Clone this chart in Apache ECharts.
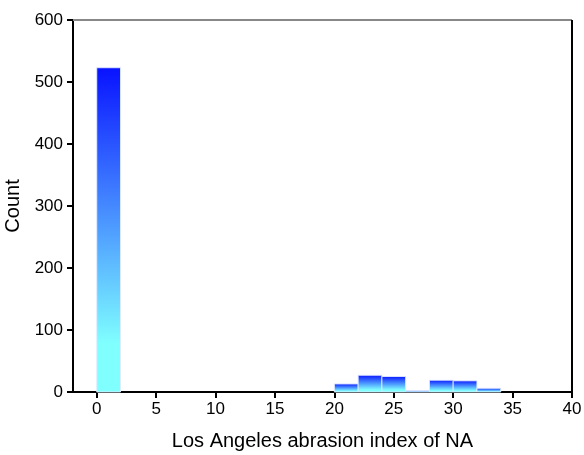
<!DOCTYPE html>
<html>
<head>
<meta charset="utf-8">
<script src="https://cdn.jsdelivr.net/npm/echarts@6/dist/echarts.min.js"></script>
<style>
    html, body { margin: 0; padding: 0; background: #fff; }
    #chart { width: 584px; height: 455px; }
</style>
</head>
<body>
<div id="chart"></div>
<script>
// histogram bins (start, end) and counts
const binStarts = [0, 20, 22, 24, 26, 28, 30, 32]
const binEnds = [2, 22, 24, 26, 28, 30, 32, 34]
const counts = [523, 13, 27, 25, 2, 19, 18, 6]
const xTicks = [0, 5, 10, 15, 20, 25, 30, 35, 40]
const yTicks = [0, 100, 200, 300, 400, 500, 600]

const chart = echarts.init(document.getElementById('chart'))
const font = '"Liberation Sans", Arial, sans-serif'

const barData = binStarts.map((s, i) => [s, binEnds[i], counts[i]])

chart.setOption({
    animation: false,
    grid: { left: 73, right: 12, top: 20, bottom: 63, outerBoundsMode: 'none', containLabel: false },
    xAxis: {
        type: 'value',
        min: -2,
        max: 40,
        name: 'Los Angeles abrasion index of NA',
        nameLocation: 'middle',
        nameGap: 39,
        nameTextStyle: { color: '#000', fontSize: 20, fontFamily: font },
        axisLine: { show: true, onZero: false, lineStyle: { color: '#000', width: 2 } },
        axisTick: { show: true, length: 6, lineStyle: { color: '#000', width: 2 }, customValues: xTicks },
        axisLabel: { color: '#000', fontSize: 17, fontFamily: font, margin: 9, customValues: xTicks },
        splitLine: { show: false },
    },
    yAxis: {
        type: 'value',
        min: 0,
        max: 600,
        interval: 100,
        name: 'Count',
        nameLocation: 'middle',
        nameGap: 47,
        nameTextStyle: { color: '#000', fontSize: 20, fontFamily: font },
        axisLine: { show: true, onZero: false, lineStyle: { color: '#000', width: 2 } },
        axisTick: { show: true, length: 6, lineStyle: { color: '#000', width: 2 }, customValues: yTicks },
        axisLabel: { color: '#000', fontSize: 17, fontFamily: font, margin: 10, customValues: yTicks },
        splitLine: { show: false },
    },
    series: [
        {
            type: 'custom',
            renderItem: (params, api) => {
                const p0 = api.coord([api.value(0), 0])
                const p1 = api.coord([api.value(1), api.value(2)])
                return {
                    type: 'rect',
                    shape: { x: p0[0], y: p1[1], width: p1[0] - p0[0], height: p0[1] - p1[1] },
                    style: {
                        fill: new echarts.graphic.LinearGradient(0, 0, 0, 1, [
                            { offset: 0, color: '#0812ff' },
                            { offset: 0.85, color: '#80ffff' },
                            { offset: 1, color: '#80ffff' },
                        ]),
                        stroke: 'rgba(225,235,255,0.9)',
                        lineWidth: 1,
                    },
                }
            },
            encode: { x: [0, 1], y: 2 },
            data: barData,
        },
        {
            // frame: gray top line and black right line
            type: 'line',
            silent: true,
            symbol: 'none',
            data: [],
            markLine: {
                silent: true,
                symbol: 'none',
                label: { show: false },
                data: [
                    [{ coord: [-2, 600], lineStyle: { color: '#888', width: 2, type: 'solid' } }, { coord: [40, 600] }],
                    [{ coord: [40, 0], lineStyle: { color: '#000', width: 2, type: 'solid' } }, { coord: [40, 600] }],
                ],
            },
        },
    ],
})
</script>
</body>
</html>
